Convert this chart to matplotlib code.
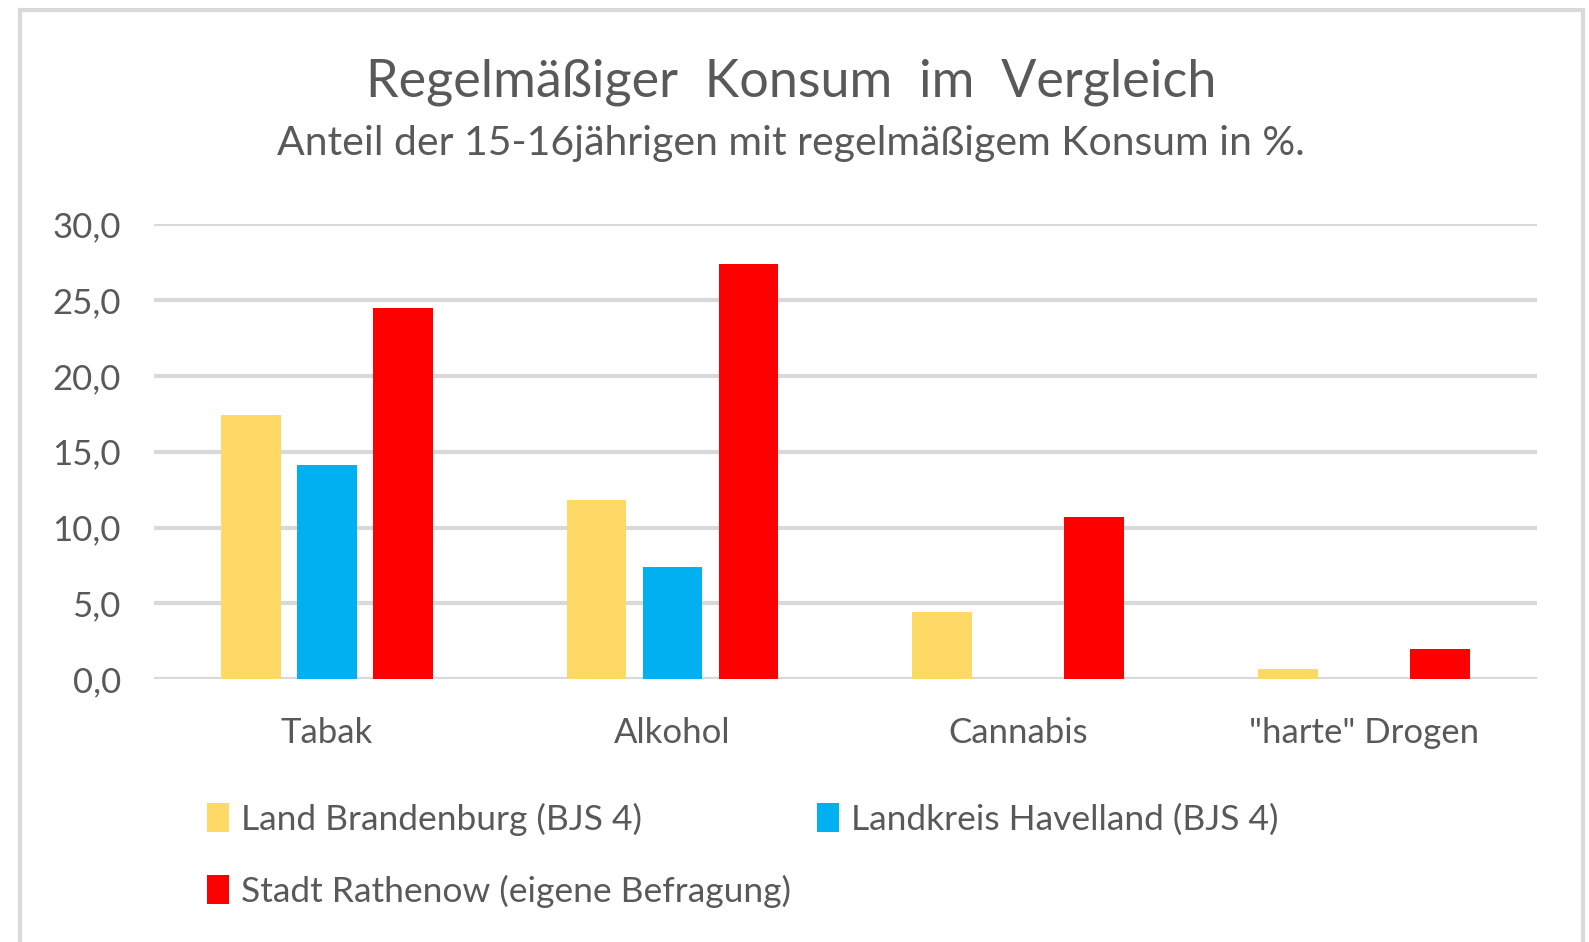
import numpy as np
import matplotlib
matplotlib.use('Agg')
import matplotlib.pyplot as plt
from matplotlib.patches import Rectangle

plt.rcParams['font.family'] = ['Lato', 'DejaVu Sans']

# data
categories = ['Tabak', 'Alkohol', 'Cannabis', '"harte" Drogen']
land_bb = [17.4, 11.8, 4.4, 0.7]
havelland = [14.1, 7.4, np.nan, np.nan]
rathenow = [24.5, 27.4, 10.7, 2.0]
series_names = ['Land Brandenburg (BJS 4)', 'Landkreis Havelland (BJS 4)',
                'Stadt Rathenow (eigene Befragung)']
colors = ['#FFD966', '#00B0F0', '#FF0000']
yticks = [0, 5, 10, 15, 20, 25, 30]

txt = '#595959'

fig = plt.figure(figsize=(15.89, 9.42), dpi=100)
# chart frame
fig.patches.append(Rectangle((20 / 1589, -0.02), 1563 / 1589, 1 - 10 / 942 + 0.02,
                             transform=fig.transFigure, fill=False,
                             edgecolor='#D9D9D9', lw=3))

ax = fig.add_axes([0.097, 0.279, 0.870, 0.483])
x = np.arange(len(categories))
w = 0.173
off = 0.22
b1 = ax.bar(x - off, land_bb, w, color=colors[0], label=series_names[0], zorder=3)
b2 = ax.bar(x, havelland, w, color=colors[1], label=series_names[1], zorder=3)
b3 = ax.bar(x + off, rathenow, w, color=colors[2], label=series_names[2], zorder=3)

ax.set_xlim(-0.5, 3.5)
ax.set_ylim(0, 30)
ax.set_yticks(yticks)
ax.set_yticklabels([f'{v:.1f}'.replace('.', ',') for v in yticks], color=txt, fontsize=25)
ax.set_xticks(x)
ax.set_xticklabels(categories, color=txt, fontsize=25)
ax.tick_params(length=0)
ax.tick_params(axis='y', pad=24)
ax.tick_params(axis='x', pad=27)
ax.grid(axis='y', color='#D9D9D9', lw=3, zorder=0)
for s in ax.spines.values():
    s.set_visible(False)

fig.text(0.498, 0.913, 'Regelmäßiger  Konsum  im  Vergleich', ha='center', va='center',
         color=txt, fontsize=37.5)
fig.text(0.498, 0.848, 'Anteil der 15-16jährigen mit regelmäßigem Konsum in %.',
         ha='center', va='center', color=txt, fontsize=29.5)

leg = fig.legend([b1, b3, b2], [series_names[0], series_names[2], series_names[1]],
                 ncol=2, loc='upper left', bbox_to_anchor=(0.130, 0.148),
                 frameon=False, fontsize=25.5, handlelength=0.62, handleheight=0.9,
                 handletextpad=0.35, columnspacing=0.73, labelspacing=1.1,
                 borderaxespad=0, borderpad=0)
for t in leg.get_texts():
    t.set_color(txt)

fig.savefig('out.png', dpi=100, facecolor='white')
